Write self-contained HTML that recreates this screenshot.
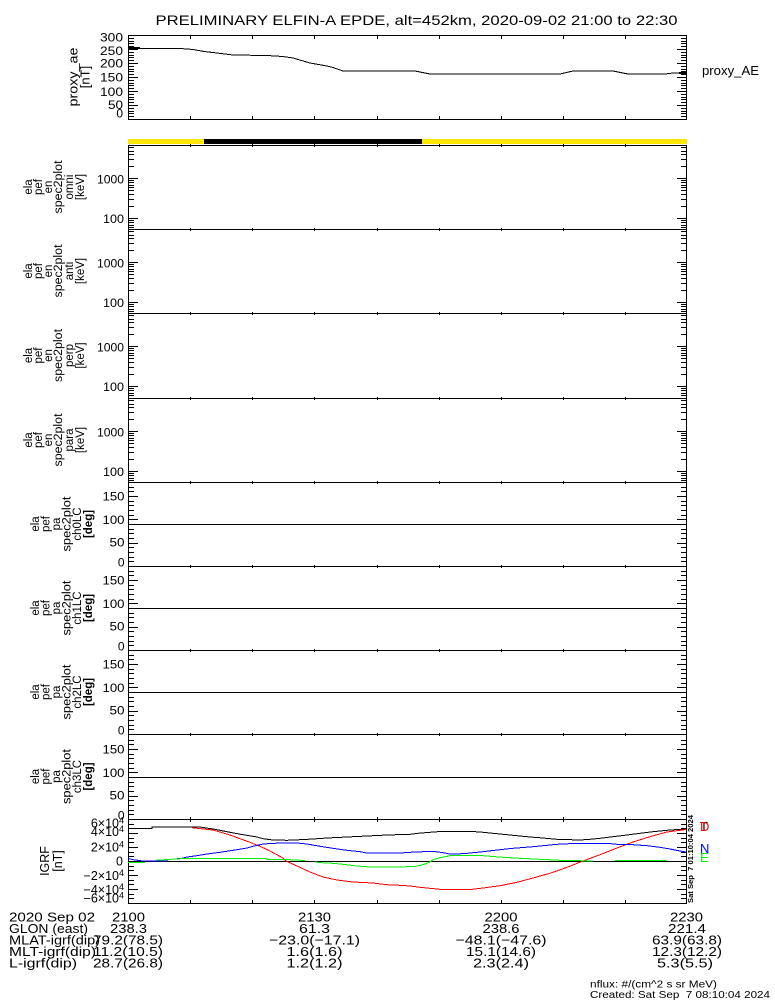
<!DOCTYPE html>
<html><head><meta charset="utf-8"><style>
body{margin:0;background:#fff}
svg{display:block}
text{font-family:"Liberation Sans",sans-serif;fill:#000}
</style></head><body>
<svg width="775" height="1000" viewBox="0 0 775 1000" xmlns="http://www.w3.org/2000/svg">
<rect width="775" height="1000" fill="#fff"/>
<defs>
<path id="ptk" d="M128 116.5h6M128 113.5h6M128 111.5h6M128 108.5h6M128 102.5h6M128 99.5h6M128 97.5h6M128 94.5h6M128 88.5h6M128 85.5h6M128 83.5h6M128 80.5h6M128 74.5h6M128 71.5h6M128 69.5h6M128 66.5h6M128 60.5h6M128 57.5h6M128 55.5h6M128 52.5h6M128 46.5h6M128 43.5h6M128 41.5h6M128 38.5h6M128 105.5h10M128 91.5h10M128 77.5h10M128 63.5h10M128 49.5h10" stroke="#000" fill="none"/>
<path id="stk" d="M128 2.5h6M128 6.5h6M128 9.5h6M128 14.5h6M128 21.5h6M128 35.5h6M128 37.5h6M128 40.5h6M128 42.5h6M128 45.5h6M128 49.5h6M128 54.5h6M128 61.5h6M128 75.5h6M128 77.5h6M128 80.5h6M128 82.5h6M128 33.5h10M128 73.5h10" stroke="#000" fill="none"/>
<path id="atk" d="M128 -4.5h6M128 -8.5h6M128 -13.5h6M128 -18.5h6M128 -27.5h6M128 -32.5h6M128 -36.5h6M128 -41.5h6M128 -50.5h6M128 -55.5h6M128 -60.5h6M128 -64.5h6M128 -74.5h6M128 -78.5h6M128 0.5h10M128 -22.5h10M128 -46.5h10M128 -69.5h10" stroke="#000" fill="none"/>
<path id="itk" d="M128 856.5h6M128 852.5h6M128 842.5h6M128 838.5h6M128 828.5h6M128 824.5h6M128 866.5h6M128 870.5h6M128 880.5h6M128 884.5h6M128 894.5h6M128 898.5h6M128 847.5h10M128 833.5h10M128 861.5h10M128 875.5h10M128 889.5h10" stroke="#000" fill="none"/>
<path id="xt" d="M190.5 -1v3M252.5 -1v3M314.5 -1v3M377.5 -1v3M439.5 -1v3M501.5 -1v3M563.5 -1v3M625.5 -1v3" stroke="#000" fill="none"/>
<path id="xd" d="M190.5 0v3M252.5 0v3M314.5 0v3M377.5 0v3M439.5 0v3M501.5 0v3M563.5 0v3M625.5 0v3" stroke="#000" fill="none"/>
</defs>

<g shape-rendering="crispEdges">
<!-- title -->
<!-- proxy panel -->
<rect x="128.5" y="35.5" width="558" height="84" fill="none" stroke="#000"/>
<use href="#ptk"/>
<use href="#ptk" transform="translate(815,0) scale(-1,1)"/>
<use href="#xd" transform="translate(0,36)"/>
<use href="#xd" transform="translate(0,119) scale(1,-1)"/>
<polyline fill="none" stroke="#000" points="128,48.5 180,48.5 193,49.5 203,51.3 233,55 267,55.5 283,56.5 293,58 310,63 327,66 333,67.5 343,71 415,71 430,74 560,74 573,71 613,71 628,74 665,74 673,73 686,73"/>
<path d="M128 48h12M679 73h8" stroke="#000" stroke-width="2"/>

<!-- bar -->
<rect x="128" y="139" width="559" height="5" fill="#ffe600"/>
<rect x="204" y="139" width="218" height="5" fill="#000"/>

<!-- main frame -->
<rect x="128.5" y="145.5" width="558" height="758" fill="none" stroke="#000"/>
<path d="M128 229.5H687M128 313.5H687M128 398.5H687M128 482.5H687M128 566.5H687M128 650.5H687M128 734.5H687M128 819.5H687M128 524.5H687M128 608.5H687M128 692.5H687M128 777.5H687M128 861.5H687" stroke="#000" fill="none"/>

<use href="#stk" transform="translate(0,145)"/>
<use href="#stk" transform="translate(0,229)"/>
<use href="#stk" transform="translate(0,313)"/>
<use href="#stk" transform="translate(0,398)"/>
<use href="#stk" transform="translate(815,145) scale(-1,1)"/>
<use href="#stk" transform="translate(815,229) scale(-1,1)"/>
<use href="#stk" transform="translate(815,313) scale(-1,1)"/>
<use href="#stk" transform="translate(815,398) scale(-1,1)"/>

<use href="#atk" transform="translate(0,566)"/>
<use href="#atk" transform="translate(0,650)"/>
<use href="#atk" transform="translate(0,734)"/>
<use href="#atk" transform="translate(0,819)"/>
<use href="#atk" transform="translate(815,566) scale(-1,1)"/>
<use href="#atk" transform="translate(815,650) scale(-1,1)"/>
<use href="#atk" transform="translate(815,734) scale(-1,1)"/>
<use href="#atk" transform="translate(815,819) scale(-1,1)"/>

<use href="#itk"/>
<use href="#itk" transform="translate(815,0) scale(-1,1)"/>

<use href="#xt" transform="translate(0,145)"/>
<use href="#xt" transform="translate(0,229)"/>
<use href="#xt" transform="translate(0,313)"/>
<use href="#xt" transform="translate(0,398)"/>
<use href="#xt" transform="translate(0,482)"/>
<use href="#xt" transform="translate(0,566)"/>
<use href="#xt" transform="translate(0,650)"/>
<use href="#xt" transform="translate(0,734)"/>
<path d="M190.5 817v5M252.5 817v5M314.5 817v5M377.5 817v5M439.5 817v5M501.5 817v5M563.5 817v5M625.5 817v5" stroke="#000"/>
<use href="#xd" transform="translate(0,903) scale(1,-1)"/>

<!-- IGRF curves -->
<polyline fill="none" stroke="#000" points="128,828.3 152,828.3 152,827 200,827 213,829 220,830.3 230,832.3 243,834.7 257,837 263,838.7 273,840 287,840.3 300,839.7 313,839 327,838 347,837 367,836 387,835 410,834.3 418,833.3 430,832.3 443,831.3 470,831.3 483,832.3 493,833.3 503,834.3 517,835.7 530,837 543,838 557,839.3 580,840 590,839.3 600,838.3 613,836.7 627,835 640,833.3 653,831.7 667,830.3 680,829.3 686,829"/>
<polyline fill="none" stroke="#ff0000" points="192,827.7 213,830 220,832 230,835 240,838.7 250,842.3 260,846.3 270,851 283,858 286,861 297,866 310,872 323,877 337,880 353,882 373,883 387,884.7 400,885.3 410,886 420,887.3 430,888.3 440,889.3 472,889.3 483,888 500,885.7 517,882.3 533,878 550,873.3 567,867.3 583,861 600,854.7 617,848 633,842 650,836.7 667,832 686,829.5"/>
<polyline fill="none" stroke="#0000ff" points="128,858.3 133,859.7 143,861 167,861 167,859.7 182,858.3 187,857 197,855.7 207,854 220,852.3 233,850.3 247,848 253,846.3 263,844 280,843 297,843 307,844 320,846.3 333,848.3 347,850.3 360,851.7 367,853 400,853 410,852.3 423,851.7 433,851.3 443,852.7 450,854 463,853.7 473,852.7 483,851.7 497,850 513,848.3 533,846.7 557,844.3 577,843.3 607,843.3 617,844.3 633,844.7 647,845.7 660,847.3 670,849 680,851 686,852"/>
<g fill="none" stroke="#00ee00">
<polyline points="128,862.3 145,862.3"/>
<polyline points="156,860.3 168,859.5 187,858.3 267,858.3 267,859.7 290,859.7 305,860.5"/>
<polyline points="315,862 325,863 333,863.3 343,864.3 357,866 370,867 413,866.7 417,866 423,864.7 430,862 433,859.7 440,857.7 450,855.7 483,855.7 503,857.3 520,858.3 540,859.3 560,860.3 593,861"/>
<polyline points="615,860.5 667,860.5"/>
</g>
</g>

<!-- title -->
<text x="155.5" y="25" font-size="14" textLength="522" lengthAdjust="spacingAndGlyphs">PRELIMINARY ELFIN-A EPDE, alt=452km, 2020-09-02 21:00 to 22:30</text>

<!-- proxy labels -->
<g font-size="12" text-anchor="end">
<text x="123" y="41.5" textLength="23" lengthAdjust="spacingAndGlyphs">300</text>
<text x="123" y="55" textLength="23" lengthAdjust="spacingAndGlyphs">250</text>
<text x="123" y="67.5" textLength="23" lengthAdjust="spacingAndGlyphs">200</text>
<text x="123" y="81.5" textLength="23" lengthAdjust="spacingAndGlyphs">150</text>
<text x="123" y="96" textLength="23" lengthAdjust="spacingAndGlyphs">100</text>
<text x="123" y="109" textLength="15" lengthAdjust="spacingAndGlyphs">50</text>
<text x="123" y="117.5">0</text>
</g>
<g font-size="13" text-anchor="middle" dominant-baseline="central">
<text transform="translate(73,77) rotate(-90)" textLength="59" lengthAdjust="spacingAndGlyphs">proxy_ae</text>
<text transform="translate(85,77) rotate(-90)">[nT]</text>
</g>
<text x="702" y="75" font-size="13" textLength="57" lengthAdjust="spacingAndGlyphs">proxy_AE</text>

<!-- spectro y labels -->
<g font-size="12" text-anchor="end">
<text x="124" y="183.5" textLength="27" lengthAdjust="spacingAndGlyphs">1000</text>
<text x="124" y="223" textLength="21" lengthAdjust="spacingAndGlyphs">100</text>
<text x="124" y="267.5" textLength="27" lengthAdjust="spacingAndGlyphs">1000</text>
<text x="124" y="307" textLength="21" lengthAdjust="spacingAndGlyphs">100</text>
<text x="124" y="351.5" textLength="27" lengthAdjust="spacingAndGlyphs">1000</text>
<text x="124" y="391" textLength="21" lengthAdjust="spacingAndGlyphs">100</text>
<text x="124" y="436.5" textLength="27" lengthAdjust="spacingAndGlyphs">1000</text>
<text x="124" y="476" textLength="21" lengthAdjust="spacingAndGlyphs">100</text>
</g>
<g font-size="11.5" text-anchor="middle" dominant-baseline="central">
<text transform="translate(29,187) rotate(-90)">ela</text>
<text transform="translate(39,187) rotate(-90)">pef</text>
<text transform="translate(49,187) rotate(-90)">en</text>
<text transform="translate(59,187) rotate(-90)" textLength="53" lengthAdjust="spacingAndGlyphs">spec2plot</text>
<text transform="translate(70,187) rotate(-90)">omni</text>
<text transform="translate(81,187) rotate(-90)">[keV]</text>

<text transform="translate(29,271) rotate(-90)">ela</text>
<text transform="translate(39,271) rotate(-90)">pef</text>
<text transform="translate(49,271) rotate(-90)">en</text>
<text transform="translate(59,271) rotate(-90)" textLength="53" lengthAdjust="spacingAndGlyphs">spec2plot</text>
<text transform="translate(70,271) rotate(-90)">anti</text>
<text transform="translate(81,271) rotate(-90)">[keV]</text>

<text transform="translate(29,355.5) rotate(-90)">ela</text>
<text transform="translate(39,355.5) rotate(-90)">pef</text>
<text transform="translate(49,355.5) rotate(-90)">en</text>
<text transform="translate(59,355.5) rotate(-90)" textLength="53" lengthAdjust="spacingAndGlyphs">spec2plot</text>
<text transform="translate(70,355.5) rotate(-90)">perp</text>
<text transform="translate(81,355.5) rotate(-90)">[keV]</text>

<text transform="translate(29,440) rotate(-90)">ela</text>
<text transform="translate(39,440) rotate(-90)">pef</text>
<text transform="translate(49,440) rotate(-90)">en</text>
<text transform="translate(59,440) rotate(-90)" textLength="53" lengthAdjust="spacingAndGlyphs">spec2plot</text>
<text transform="translate(70,440) rotate(-90)">para</text>
<text transform="translate(81,440) rotate(-90)">[keV]</text>

<text transform="translate(36,524) rotate(-90)">ela</text>
<text transform="translate(46.5,524) rotate(-90)">pef</text>
<text transform="translate(57,524) rotate(-90)">pa</text>
<text transform="translate(67.5,524) rotate(-90)" textLength="55" lengthAdjust="spacingAndGlyphs">spec2plot</text>
<text transform="translate(78,524) rotate(-90)">ch0LC</text>
<text transform="translate(89,524) rotate(-90)" font-weight="bold">[deg]</text>

<text transform="translate(36,608) rotate(-90)">ela</text>
<text transform="translate(46.5,608) rotate(-90)">pef</text>
<text transform="translate(57,608) rotate(-90)">pa</text>
<text transform="translate(67.5,608) rotate(-90)" textLength="55" lengthAdjust="spacingAndGlyphs">spec2plot</text>
<text transform="translate(78,608) rotate(-90)">ch1LC</text>
<text transform="translate(89,608) rotate(-90)" font-weight="bold">[deg]</text>

<text transform="translate(36,692) rotate(-90)">ela</text>
<text transform="translate(46.5,692) rotate(-90)">pef</text>
<text transform="translate(57,692) rotate(-90)">pa</text>
<text transform="translate(67.5,692) rotate(-90)" textLength="55" lengthAdjust="spacingAndGlyphs">spec2plot</text>
<text transform="translate(78,692) rotate(-90)">ch2LC</text>
<text transform="translate(89,692) rotate(-90)" font-weight="bold">[deg]</text>

<text transform="translate(36,776.5) rotate(-90)">ela</text>
<text transform="translate(46.5,776.5) rotate(-90)">pef</text>
<text transform="translate(57,776.5) rotate(-90)">pa</text>
<text transform="translate(67.5,776.5) rotate(-90)" textLength="55" lengthAdjust="spacingAndGlyphs">spec2plot</text>
<text transform="translate(78,776.5) rotate(-90)">ch3LC</text>
<text transform="translate(89,776.5) rotate(-90)" font-weight="bold">[deg]</text>
</g>

<!-- PA y labels -->
<g font-size="12" text-anchor="end">
<text x="124.5" y="500.5" textLength="22" lengthAdjust="spacingAndGlyphs">150</text>
<text x="124.5" y="523.8" textLength="22" lengthAdjust="spacingAndGlyphs">100</text>
<text x="124.5" y="546.7" textLength="15" lengthAdjust="spacingAndGlyphs">50</text>
<text x="124.5" y="566.7">0</text>
<text x="124.5" y="584.5" textLength="22" lengthAdjust="spacingAndGlyphs">150</text>
<text x="124.5" y="607.8" textLength="22" lengthAdjust="spacingAndGlyphs">100</text>
<text x="124.5" y="630.7" textLength="15" lengthAdjust="spacingAndGlyphs">50</text>
<text x="124.5" y="650.7">0</text>
<text x="124.5" y="668.5" textLength="22" lengthAdjust="spacingAndGlyphs">150</text>
<text x="124.5" y="691.8" textLength="22" lengthAdjust="spacingAndGlyphs">100</text>
<text x="124.5" y="714.7" textLength="15" lengthAdjust="spacingAndGlyphs">50</text>
<text x="124.5" y="734.7">0</text>
<text x="124.5" y="753.5" textLength="22" lengthAdjust="spacingAndGlyphs">150</text>
<text x="124.5" y="776.8" textLength="22" lengthAdjust="spacingAndGlyphs">100</text>
<text x="124.5" y="799.7" textLength="15" lengthAdjust="spacingAndGlyphs">50</text>
<text x="124.5" y="819.7">0</text>
</g>

<!-- IGRF labels -->
<g font-size="12.5" text-anchor="end">
<text x="124" y="827.3">6×10<tspan font-size="9" dy="-4">4</tspan></text>
<text x="124" y="836">4×10<tspan font-size="9" dy="-4">4</tspan></text>
<text x="124" y="851.7">2×10<tspan font-size="9" dy="-4">4</tspan></text>
<text x="123" y="865.5">0</text>
<text x="124" y="880">−2×10<tspan font-size="9" dy="-4">4</tspan></text>
<text x="124" y="894">−4×10<tspan font-size="9" dy="-4">4</tspan></text>
<text x="124" y="902.7">−6×10<tspan font-size="9" dy="-4">4</tspan></text>
</g>
<g font-size="12.5" text-anchor="middle" dominant-baseline="central">
<text transform="translate(45,861) rotate(-90)">IGRF</text>
<text transform="translate(58,861) rotate(-90)">[nT]</text>
</g>
<text transform="translate(690.5,859) rotate(-90)" font-size="7.5" font-weight="bold" text-anchor="middle" dominant-baseline="central" textLength="88" lengthAdjust="spacingAndGlyphs">Sat Sep &#160;7 01:10:04 2024</text>
<g font-size="13">
<text x="700" y="831" fill="#000" style="fill:#000">T</text>
<text x="700" y="831" style="fill:#ff0000">D</text>
<text x="700" y="853" style="fill:#0000ff">N</text>
<text x="700" y="862" style="fill:#00ee00">E</text>
</g>

<!-- bottom text -->
<g font-size="13">
<text x="9" y="921.5" textLength="86" lengthAdjust="spacingAndGlyphs">2020 Sep 02</text>
<text x="9" y="933" textLength="79" lengthAdjust="spacingAndGlyphs">GLON (east)</text>
<text x="9" y="944.5" textLength="91" lengthAdjust="spacingAndGlyphs">MLAT-igrf(dip)</text>
<text x="9" y="956" textLength="87" lengthAdjust="spacingAndGlyphs">MLT-igrf(dip)</text>
<text x="9" y="967.5" textLength="68" lengthAdjust="spacingAndGlyphs">L-igrf(dip)</text>
</g>
<g font-size="13" text-anchor="middle">
<text x="128.5" y="921.5" textLength="33" lengthAdjust="spacingAndGlyphs">2100</text>
<text x="128.5" y="933" textLength="37" lengthAdjust="spacingAndGlyphs">238.3</text>
<text x="128" y="944.5" textLength="70" lengthAdjust="spacingAndGlyphs">79.2(78.5)</text>
<text x="128" y="956" textLength="70" lengthAdjust="spacingAndGlyphs">11.2(10.5)</text>
<text x="128" y="967.5" textLength="70" lengthAdjust="spacingAndGlyphs">28.7(26.8)</text>

<text x="314.5" y="921.5" textLength="33" lengthAdjust="spacingAndGlyphs">2130</text>
<text x="314.5" y="933" textLength="31" lengthAdjust="spacingAndGlyphs">61.3</text>
<text x="314.5" y="944.5" textLength="91" lengthAdjust="spacingAndGlyphs">−23.0(−17.1)</text>
<text x="314.5" y="956" textLength="56" lengthAdjust="spacingAndGlyphs">1.6(1.6)</text>
<text x="314.5" y="967.5" textLength="56" lengthAdjust="spacingAndGlyphs">1.2(1.2)</text>

<text x="501" y="921.5" textLength="33" lengthAdjust="spacingAndGlyphs">2200</text>
<text x="501" y="933" textLength="37" lengthAdjust="spacingAndGlyphs">238.6</text>
<text x="501" y="944.5" textLength="91" lengthAdjust="spacingAndGlyphs">−48.1(−47.6)</text>
<text x="501" y="956" textLength="70" lengthAdjust="spacingAndGlyphs">15.1(14.6)</text>
<text x="501" y="967.5" textLength="56" lengthAdjust="spacingAndGlyphs">2.3(2.4)</text>

<text x="686.5" y="921.5" textLength="33" lengthAdjust="spacingAndGlyphs">2230</text>
<text x="687" y="933" textLength="38" lengthAdjust="spacingAndGlyphs">221.4</text>
<text x="687" y="944.5" textLength="70" lengthAdjust="spacingAndGlyphs">63.9(63.8)</text>
<text x="687" y="956" textLength="70" lengthAdjust="spacingAndGlyphs">12.3(12.2)</text>
<text x="685" y="967.5" textLength="56" lengthAdjust="spacingAndGlyphs">5.3(5.5)</text>
</g>
<g font-size="10">
<text x="590" y="987.5" textLength="127" lengthAdjust="spacingAndGlyphs">nflux: #/(cm^2 s sr MeV)</text>
<text x="590" y="998" textLength="180" lengthAdjust="spacingAndGlyphs">Created: Sat Sep &#160;7 08:10:04 2024</text>
</g>
</svg>
</body></html>
